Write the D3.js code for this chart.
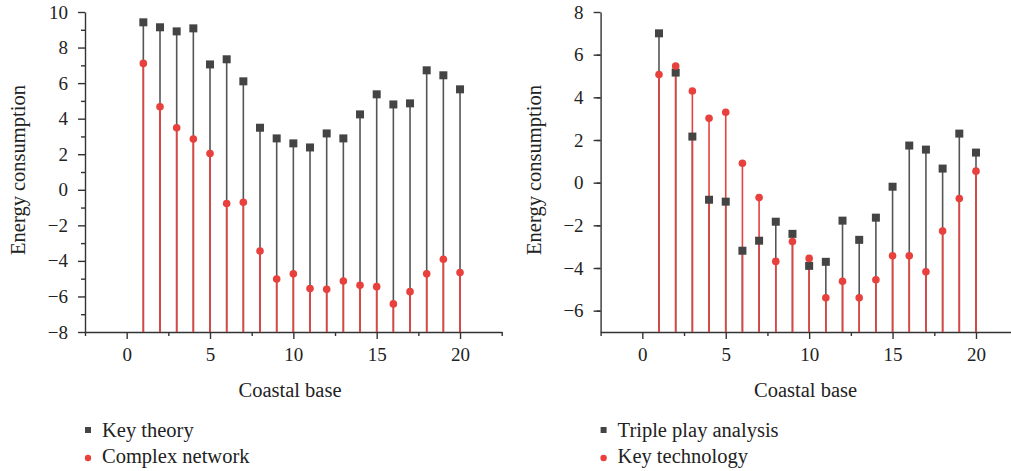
<!DOCTYPE html>
<html lang="en">
<head>
    <meta charset="UTF-8">
    <title>Energy consumption by coastal base</title>
    <script src="https://d3js.org/d3.v7.min.js"></script>
    <style>
        body { margin: 0; background: #fff; }
        svg text { font-family: "Liberation Serif", "Times New Roman", "DejaVu Serif", serif; }
        .axis path, .axis line { stroke: #333; stroke-width: 1.4; }
        .title { font-size: 20.5px; fill: #222; }
        .legend text { font-size: 20.5px; fill: #222; }
    </style>
</head>
<body>
<svg width="1011" height="471"></svg>
<script>
    // coastal bases 1..20
    let bases = d3.range(1, 21);

    // left panel
    let keyTheory = [9.42, 9.14, 8.91, 9.08, 7.05, 7.34, 6.1, 3.49, 2.89, 2.61,
                     2.38, 3.17, 2.89, 4.24, 5.37, 4.8, 4.86, 6.72, 6.44, 5.65];
    let complexNetwork = [7.11, 4.67, 3.49, 2.85, 2.04, -0.77, -0.7, -3.44, -5.02, -4.73,
                          -5.56, -5.6, -5.13, -5.37, -5.45, -6.42, -5.73, -4.73, -3.91, -4.66];

    // right panel
    let triplePlay = [7.0, 5.16, 2.16, -0.8, -0.89, -3.19, -2.72, -1.83, -2.4, -3.9,
                      -3.71, -1.78, -2.68, -1.64, -0.19, 1.74, 1.55, 0.66, 2.3, 1.41];
    let keyTechnology = [5.07, 5.47, 4.3, 3.02, 3.3, 0.91, -0.7, -3.69, -2.76, -3.55,
                         -5.4, -4.62, -5.4, -4.55, -3.43, -3.43, -4.18, -2.27, -0.74, 0.54];

    let xTicks = [0, 5, 10, 15, 20];
    let leftYTicks = [-8, -6, -4, -2, 0, 2, 4, 6, 8, 10];
    let rightYTicks = [-6, -4, -2, 0, 2, 4, 6, 8];

    let black = "#444444", red = "#e8403c";
    let serif = "'Liberation Serif', 'Times New Roman', 'DejaVu Serif', serif";
    let svg = d3.select("svg");

    function drawPanel(opt) {
        let x = d3.scaleLinear().domain([-2.5, 22.5]).range([opt.left, opt.right]);
        let y = d3.scaleLinear().domain(opt.yDomain).range([332, 12]);
        let g = svg.append("g");

        // minor ticks
        g.append("g").attr("class", "axis")
            .attr("transform", `translate(0,${y.range()[0]})`)
            .call(d3.axisBottom(x).tickValues(d3.range(-2.5, 23, 2.5).filter(v => v % 5 !== 0))
                .tickSize(4).tickFormat(""))
            .select(".domain").remove();
        g.append("g").attr("class", "axis")
            .attr("transform", `translate(${opt.left},0)`)
            .call(d3.axisLeft(y).tickValues(d3.range(opt.yDomain[0] + 1, opt.yDomain[1], 2))
                .tickSize(4).tickFormat(""))
            .select(".domain").remove();

        // main axes
        g.append("g").attr("class", "axis")
            .attr("transform", `translate(0,${y.range()[0]})`)
            .call(d3.axisBottom(x).tickValues(xTicks).tickSize(7).tickSizeOuter(0).tickPadding(9));
        g.append("g").attr("class", "axis")
            .attr("transform", `translate(${opt.left},0)`)
            .call(d3.axisLeft(y).tickValues(opt.yTicks).tickSize(7).tickSizeOuter(0)
                .tickPadding(10).tickFormat(d => d < 0 ? "\u2212" + Math.abs(d) : d));
        g.selectAll(".axis text")
            .attr("font-family", serif).attr("font-size", 19).attr("fill", "#222");

        let base = opt.yDomain[0];

        // square series stems then markers
        g.selectAll(".stemA").data(bases).join("line")
            .attr("x1", d => x(d)).attr("x2", d => x(d))
            .attr("y1", (d, i) => y(opt.a[i])).attr("y2", y(base))
            .attr("stroke", "#555").attr("stroke-width", 1.6);
        g.selectAll(".stemB").data(bases).join("line")
            .attr("x1", d => x(d)).attr("x2", d => x(d))
            .attr("y1", (d, i) => y(opt.b[i])).attr("y2", y(base))
            .attr("stroke", red).attr("stroke-width", 1.6);
        g.selectAll(".sq").data(bases).join("rect")
            .attr("x", d => x(d) - 4).attr("y", (d, i) => y(opt.a[i]) - 4)
            .attr("width", 8).attr("height", 8).attr("fill", black);
        g.selectAll(".dot").data(bases).join("circle")
            .attr("cx", d => x(d)).attr("cy", (d, i) => y(opt.b[i]))
            .attr("r", 3.8).attr("fill", red);

        // titles
        svg.append("text").attr("class", "title").attr("font-family", serif)
            .attr("x", opt.left + 205).attr("y", 397)
            .attr("text-anchor", "middle").text("Coastal base");
        svg.append("text").attr("class", "title").attr("font-family", serif)
            .attr("transform", `translate(${opt.left - 60},170) rotate(-90)`)
            .attr("text-anchor", "middle").text("Energy consumption");

        // legend
        let lg = svg.append("g").attr("class", "legend");
        lg.append("rect").attr("x", opt.left).attr("y", 427)
            .attr("width", 6).attr("height", 6).attr("fill", black);
        lg.append("text").attr("font-family", serif)
            .attr("x", opt.left + 17).attr("y", 437).text(opt.names[0]);
        lg.append("circle").attr("cx", opt.left + 3).attr("cy", 458)
            .attr("r", 3.2).attr("fill", red);
        lg.append("text").attr("font-family", serif)
            .attr("x", opt.left + 17).attr("y", 463).text(opt.names[1]);
    }

    drawPanel({ left: 85, right: 501.7, yDomain: [-8, 10], yTicks: leftYTicks,
                a: keyTheory, b: complexNetwork, names: ["Key theory", "Complex network"] });
    drawPanel({ left: 600.6, right: 1017.7, yDomain: [-7, 8], yTicks: rightYTicks,
                a: triplePlay, b: keyTechnology, names: ["Triple play analysis", "Key technology"] });
</script>
</body>
</html>
